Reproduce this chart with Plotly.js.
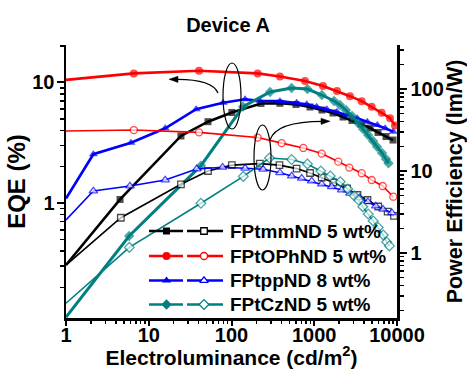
<!DOCTYPE html>
<html><head><meta charset="utf-8">
<script src="https://cdn.plot.ly/plotly-3.0.1.min.js"></script>
<style>body{margin:0;background:#fff}#chart{width:467px;height:369px}</style>
</head><body><div id="chart"></div>
<script>
// ---------------- data ----------------
const seriesNames = ['FPtmmND 5 wt%', 'FPtOPhND 5 wt%', 'FPtppND 8 wt%', 'FPtCzND 5 wt%'];

// FPtmmND (black)
const mmL_eqe = [1, 4.5, 24.5, 52, 101, 227, 385, 601, 889, 1241, 1686, 2228, 2861, 3675, 4720, 5895, 7365, 8950];
const mm_eqe  = [0.306, 1.07, 3.6, 4.73, 5.64, 6.70, 6.72, 6.57, 6.26, 5.91, 5.58, 5.17, 4.84, 4.52, 4.19, 3.85, 3.56, 3.33];
const mmL_pe  = [1, 4.6, 24.5, 52, 101, 220, 380, 612, 890, 1230, 1700, 2490, 3330, 4400, 5930, 7700, 9190];
const mm_pe   = [0.71, 2.69, 6.88, 10.0, 11.8, 12.3, 11.8, 10.7, 9.46, 8.33, 7.24, 6.12, 5.1, 4.43, 3.69, 3.19, 2.83];

// FPtOPhND (red)
const ophL_eqe = [1, 6.6, 40.5, 207, 385, 773, 1276, 1883, 2703, 3741, 4940, 6530, 8230, 9460];
const oph_eqe  = [10.5, 11.9, 12.5, 11.9, 11.2, 10.3, 9.35, 8.5, 7.7, 7.0, 6.3, 5.6, 5.05, 4.4];
const ophL_pe  = [1, 6.6, 40.5, 207, 404, 738, 1230, 1953, 2654, 3741, 4940, 6720, 9020];
const oph_pe   = [30.7, 31.6, 29.6, 25.6, 21.9, 19.1, 16.3, 13.0, 11.0, 9.4, 7.77, 6.56, 4.86];

// FPtppND (blue)
const ppL_eqe = [1, 2.14, 6.1, 15.8, 37.4, 79, 146, 220, 385, 612, 811, 1070, 1420, 1880, 2490, 3300, 4370, 5790, 7200, 9000];
const pp_eqe  = [1.09, 2.54, 3.16, 4.17, 6.0, 6.8, 7.26, 7.06, 7.0, 6.8, 6.59, 6.3, 6.0, 5.72, 5.37, 5.05, 4.73, 4.44, 4.17, 3.91];
const ppL_pe  = [1, 2.14, 5.93, 15.8, 38, 78, 146, 241, 385, 534, 705, 931, 1230, 1623, 2143, 2700, 3540, 4450, 5540, 6780, 8660];
const pp_pe   = [2.53, 5.7, 6.56, 7.77, 10.6, 11.1, 10.8, 10.5, 9.53, 8.69, 8.15, 7.55, 6.94, 6.44, 5.86, 5.34, 4.72, 4.22, 3.74, 3.41, 3.10];

// FPtCzND (teal)
const czL_eqe = [1, 5.8, 42.7, 138, 292, 532, 827, 1236, 1736, 2047, 2414, 2861, 3380, 3883, 4470, 5128, 5750, 6590, 7365, 7900];
const cz_eqe  = [0.113, 0.532, 2.04, 6.3, 8.34, 9.0, 8.83, 7.87, 7.02, 6.51, 5.91, 5.27, 4.61, 4.11, 3.67, 3.27, 2.93, 2.60, 2.32, 2.14];
const czL_pe  = [1, 5.83, 42.7, 139, 288, 532, 827, 1200, 1560, 2060, 2540, 3040, 3440, 3860, 4480, 5150, 5930, 6820, 7500, 8100];
const cz_pe   = [0.244, 1.17, 4.04, 8.6, 14.4, 13.8, 12.2, 10.0, 8.69, 7.41, 6.03, 4.99, 4.43, 3.67, 2.99, 2.46, 2.05, 1.66, 1.36, 1.22];

const xTicks = [1, 10, 100, 1000, 10000];
const xTickText = ['1', '10', '100', '1000', '10000'];
const eqeTicks = [1, 10];
const eqeTickText = ['1', '10'];
const peTicks = [1, 10, 100];
const peTickText = ['1', '10', '100'];

// ---------------- styling ----------------
const FONT = 'Arial, "Liberation Sans", sans-serif';
const colors = ['#000000', '#ff0000', '#0000ff', '#008080'];
const symbols = ['square', 'circle', 'triangle-up', 'diamond'];
const fSizes = [7, 8, 8, 8];
const oSizes = [6.5, 7, 7.5, 7.5];

const L0 = 66, R0 = 397, T0 = 45, B0 = 318;
const px = x => (x - L0) / (R0 - L0);
const py = y => (B0 - y) / (B0 - T0);

const sets = [
  [mmL_eqe, mm_eqe, mmL_pe, mm_pe],
  [ophL_eqe, oph_eqe, ophL_pe, oph_pe],
  [ppL_eqe, pp_eqe, ppL_pe, pp_pe],
  [czL_eqe, cz_eqe, czL_pe, cz_pe]
];

const traces = [];
sets.forEach((s, i) => {
  traces.push({
    x: s[2], y: s[3], xaxis: 'x', yaxis: 'y2', type: 'scatter', mode: 'lines+markers',
    name: seriesNames[i] + ' PE', showlegend: false,
    line: {color: colors[i], width: 1.6},
    marker: {symbol: symbols[i], color: '#ffffff', size: s[2].map((v, k) => k === 0 ? 0 : oSizes[i]),
             line: {color: colors[i], width: 1.3}}
  });
});
sets.forEach((s, i) => {
  traces.push({
    x: s[0], y: s[1], xaxis: 'x', yaxis: 'y', type: 'scatter', mode: 'lines+markers',
    name: seriesNames[i] + ' EQE', showlegend: false,
    line: {color: colors[i], width: i === 3 ? 3 : 2.6},
    marker: {symbol: symbols[i], color: colors[i], size: s[0].map((v, k) => k === 0 ? 0 : fSizes[i]),
             line: {width: 0}}
  });
});

// custom legend samples (overlay axes in [0,1])
const legRows = [231, 256, 280.5, 304.5];
legRows.forEach((ry, i) => {
  traces.push({
    x: [px(149), px(183), null, px(187), px(223)], y: [py(ry), py(ry), null, py(ry), py(ry)],
    xaxis: 'x3', yaxis: 'y3', mode: 'lines', showlegend: false, hoverinfo: 'skip',
    line: {color: colors[i], width: 2.6}
  });
  traces.push({
    x: [px(166.5)], y: [py(ry)], xaxis: 'x3', yaxis: 'y3', mode: 'markers', showlegend: false, hoverinfo: 'skip',
    marker: {symbol: symbols[i], color: colors[i], size: fSizes[i]}
  });
  traces.push({
    x: [px(204)], y: [py(ry)], xaxis: 'x3', yaxis: 'y3', mode: 'markers', showlegend: false, hoverinfo: 'skip',
    marker: {symbol: symbols[i], color: '#ffffff', size: oSizes[i], line: {color: colors[i], width: 1.3}}
  });
});

function minorVals(lo, hi) {
  const out = [];
  for (let e = lo; e <= hi; e++) for (let d = 2; d <= 9; d++) out.push(d * Math.pow(10, e));
  return out;
}

const tickFont = {family: FONT, size: 20, color: '#000', weight: 'bold'};
const titleFont = {family: FONT, size: 21, color: '#000', weight: 'bold'};

const annotations = seriesNames.map((n, i) => ({
  xref: 'paper', yref: 'paper', x: px(228), y: py(legRows[i]), xanchor: 'left', yanchor: 'middle',
  text: n, showarrow: false, font: {family: FONT, size: 19, color: '#000', weight: 'bold'}
}));

const P = (x, y) => px(x) + ',' + py(y);
const shapes = [
  {type: 'circle', xref: 'paper', yref: 'paper', x0: px(223), x1: px(241), y0: py(129), y1: py(63), line: {color: '#000', width: 1.2}},
  {type: 'circle', xref: 'paper', yref: 'paper', x0: px(254), x1: px(271), y0: py(190), y1: py(125), line: {color: '#000', width: 1.2}},
  {type: 'path', xref: 'paper', yref: 'paper', path: 'M' + P(218, 93) + ' Q' + P(212, 79) + ' ' + P(176, 79.3), line: {color: '#000', width: 1.2}},
  {type: 'path', xref: 'paper', yref: 'paper', path: 'M' + P(169, 79.3) + ' L' + P(178, 76.2) + ' L' + P(178, 82.4) + ' Z',
   fillcolor: '#000', line: {color: '#000', width: 0.5}},
  {type: 'path', xref: 'paper', yref: 'paper', path: 'M' + P(270, 140) + ' Q' + P(276, 121.3) + ' ' + P(323, 121.3), line: {color: '#000', width: 1.2}},
  {type: 'path', xref: 'paper', yref: 'paper', path: 'M' + P(330, 121.3) + ' L' + P(321, 118.2) + ' L' + P(321, 124.4) + ' Z',
   fillcolor: '#000', line: {color: '#000', width: 0.5}}
];

const axBase = {showline: true, linecolor: '#000', linewidth: 2.5, mirror: false, showgrid: false, zeroline: false,
  ticks: 'outside', ticklen: 7, tickwidth: 2, tickcolor: '#000', tickfont: tickFont, automargin: false};

const layout = {
  width: 467, height: 369,
  margin: {l: L0, r: 467 - R0, t: T0, b: 369 - B0},
  paper_bgcolor: '#fff', plot_bgcolor: '#fff',
  showlegend: false,
  title: {text: 'Device A', font: {family: FONT, size: 20, color: '#000', weight: 'bold'},
          xref: 'container', yref: 'container', x: 228 / 467, xanchor: 'center', y: 1 - 25 / 369, yanchor: 'middle'},
  xaxis: Object.assign({}, axBase, {type: 'log', range: [0, 4], tickvals: xTicks, ticktext: xTickText,
    ticklen: 5, ticklabelstandoff: -8,
    minor: {tickvals: minorVals(0, 3), ticks: 'outside', ticklen: 3, tickwidth: 1.5, tickcolor: '#000'},
    title: {text: 'Electroluminance (cd/m<sup>2</sup>)', font: titleFont, standoff: 3}}),
  xaxis2: {overlaying: 'x', side: 'top', anchor: 'y', type: 'log', range: [0, 4], showline: true, linecolor: '#000', linewidth: 2.5,
    ticks: 'inside', ticklen: 6, tickwidth: 2, tickcolor: '#000', tickvals: xTicks, showticklabels: false, showgrid: false, zeroline: false,
    minor: {tickvals: minorVals(0, 3), ticks: 'inside', ticklen: 3.5, tickwidth: 1.5, tickcolor: '#000'}},
  yaxis: Object.assign({}, axBase, {type: 'log', range: [-0.954, 1.311], tickvals: eqeTicks, ticktext: eqeTickText,
    ticklabelstandoff: -2,
    minor: {tickvals: minorVals(-1, 1), ticks: 'outside', ticklen: 4, tickwidth: 1.5, tickcolor: '#000'},
    title: {text: 'EQE (%)', font: {family: FONT, size: 24, color: '#000', weight: 'bold'}, standoff: 0}}),
  yaxis2: Object.assign({}, axBase, {type: 'log', overlaying: 'y', side: 'right', anchor: 'x', range: [-0.793, 2.537],
    tickvals: peTicks, ticktext: peTickText,
    minor: {tickvals: minorVals(-1, 2), ticks: 'outside', ticklen: 4, tickwidth: 1.5, tickcolor: '#000'},
    title: {text: 'Power Efficiency (lm/W)', font: {family: FONT, size: 21.5, color: '#000', weight: 'bold'}, standoff: 4}}),
  xaxis3: {overlaying: 'x', range: [0, 1], visible: false, anchor: 'y3'},
  yaxis3: {overlaying: 'y', range: [0, 1], visible: false, anchor: 'x3'},
  shapes: shapes,
  annotations: annotations
};

Plotly.newPlot('chart', traces, layout, {staticPlot: true, displayModeBar: false});
</script>
</body></html>
